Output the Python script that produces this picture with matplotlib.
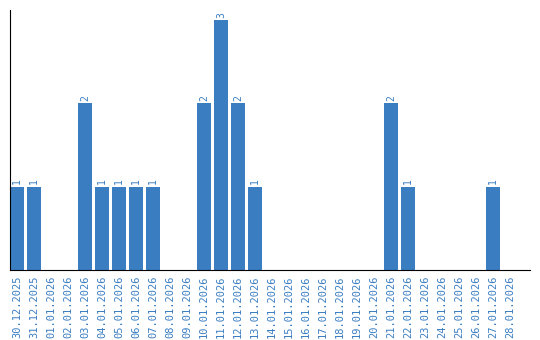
import matplotlib
matplotlib.use("Agg")
import matplotlib.pyplot as plt

dates = ["30.12.2025", "31.12.2025"] + ["%02d.01.2026" % d for d in range(1, 29)]
counts = [1, 1, 0, 0, 2, 1, 1, 1, 1, 0, 0, 2, 3, 2, 1, 0, 0, 0, 0, 0, 0, 0, 2, 1, 0, 0, 0, 0, 1, 0]

color = "#3a7dc1"
fig = plt.figure(figsize=(5.4, 3.4), dpi=100)
ax = fig.add_axes([10/540, 70/340, 520/540, 260/340])
x = list(range(len(dates)))
ax.bar(x, counts, width=0.82, color=color)
for xi, c in zip(x, counts):
    if c > 0:
        ax.text(xi, c + 0.03, str(c), rotation=90, ha="center", va="bottom",
                color=color, fontsize=7, family="DejaVu Sans Mono")
ax.set_xlim(-0.41, 30.18)
ax.set_ylim(0, 3.12)
ax.set_xticks(x)
ax.set_xticklabels(dates, rotation=90, color=color, fontsize=7.5, family="DejaVu Sans Mono")
ax.tick_params(axis="x", length=0, pad=4)
ax.set_yticks([])
ax.spines["top"].set_visible(False)
ax.spines["right"].set_visible(False)
fig.savefig("out.png", dpi=100)
